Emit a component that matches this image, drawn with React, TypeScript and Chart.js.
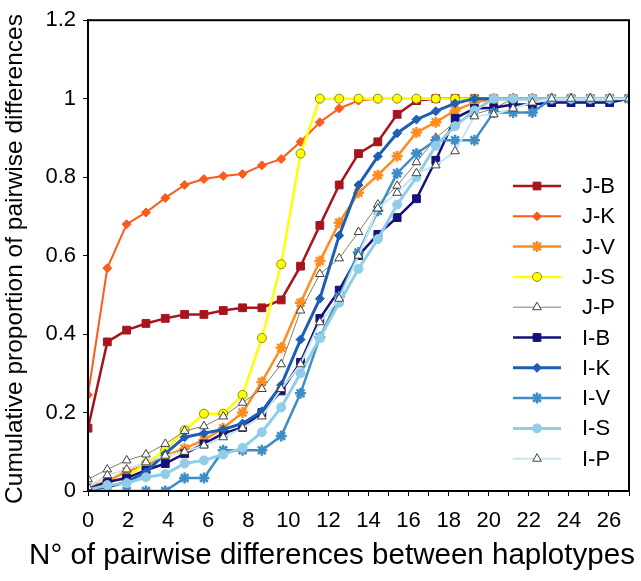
import React, { useEffect, useRef } from 'react';
import { Chart, registerables } from 'chart.js';
import { drawPoint } from 'chart.js/helpers';

Chart.register(...registerables);

const FONT = "'Liberation Sans', Arial, sans-serif";

// N° of pairwise differences (data categories)
const diffs = [0, 1, 2, 3, 4, 5, 6, 7, 8, 9, 10, 11, 12, 13, 14, 15, 16, 17, 18, 19, 20, 21, 22, 23, 24, 25, 26, 27, 28];

// axis tick labels
const xTickLabels = ['0', '2', '4', '6', '8', '10', '12', '14', '16', '18', '20', '22', '24', '26'];
const yTickLabels = ['0', '0.2', '0.4', '0.6', '0.8', '1', '1.2'];

const xTitle = 'N° of pairwise differences between haplotypes';
const yTitle = 'Cumulative proportion of pairwise differences';

const seriesNames = ['J-B', 'J-K', 'J-V', 'J-S', 'J-P', 'I-B', 'I-K', 'I-V', 'I-S', 'I-P'];

const jB = [0.16, 0.38, 0.41, 0.427, 0.44, 0.45, 0.45, 0.46, 0.467, 0.467, 0.487, 0.573, 0.677, 0.78, 0.86, 0.89, 0.96, 0.995, 1, 1, 1, 1, 1, 1, 1, 1, 1, 1, 1];
const jK = [0.245, 0.568, 0.68, 0.71, 0.747, 0.78, 0.795, 0.803, 0.808, 0.83, 0.846, 0.89, 0.94, 0.975, 0.995, 1, 1, 1, 1, 1, 1, 1, 1, 1, 1, 1, 1, 1, 1];
const jV = [0.01, 0.025, 0.05, 0.065, 0.09, 0.108, 0.13, 0.16, 0.2, 0.278, 0.365, 0.48, 0.586, 0.684, 0.76, 0.805, 0.853, 0.914, 0.94, 0.97, 0.99, 1, 1, 1, 1, 1, 1, 1, 1];
const jS = [0.005, 0.02, 0.035, 0.07, 0.105, 0.155, 0.197, 0.197, 0.245, 0.39, 0.578, 0.86, 1, 1, 1, 1, 1, 1, 1, 1, 1, 1, 1, 1, 1, 1, 1, 1, 1];
const jP = [0.03, 0.055, 0.078, 0.093, 0.12, 0.153, 0.165, 0.19, 0.225, 0.26, 0.323, 0.46, 0.553, 0.593, 0.66, 0.73, 0.778, 0.838, 0.9, 0.94, 0.96, 0.975, 1, 1, 1, 1, 1, 1, 1];
const iB = [0.005, 0.023, 0.033, 0.053, 0.07, 0.095, 0.12, 0.147, 0.162, 0.2, 0.255, 0.328, 0.44, 0.512, 0.6, 0.654, 0.697, 0.745, 0.843, 0.95, 0.975, 0.977, 0.985, 0.985, 0.99, 0.99, 0.99, 0.99, 1];
const iK = [0.003, 0.01, 0.023, 0.048, 0.095, 0.137, 0.147, 0.157, 0.172, 0.203, 0.27, 0.386, 0.49, 0.651, 0.78, 0.853, 0.912, 0.947, 0.968, 0.988, 1, 1, 1, 1, 1, 1, 1, 1, 1];
const iV = [0, 0, 0, 0, 0, 0.033, 0.033, 0.104, 0.104, 0.104, 0.14, 0.249, 0.392, 0.495, 0.608, 0.714, 0.81, 0.86, 0.894, 0.894, 0.894, 0.965, 0.965, 0.965, 1, 1, 1, 1, 1];
const iS = [0.003, 0.015, 0.02, 0.035, 0.043, 0.07, 0.078, 0.093, 0.11, 0.15, 0.213, 0.3, 0.39, 0.48, 0.566, 0.642, 0.73, 0.8, 0.88, 0.93, 0.97, 1, 1, 1, 1, 1, 1, 1, 1];
const iP = [0.01, 0.04, 0.055, 0.073, 0.09, 0.1, 0.116, 0.137, 0.16, 0.19, 0.26, 0.323, 0.43, 0.49, 0.6, 0.72, 0.76, 0.81, 0.83, 0.866, 0.955, 0.96, 0.975, 0.99, 1, 1, 1, 1, 1];

const seriesValues = [jB, jK, jV, jS, jP, iB, iK, iV, iS, iP];

type Style = {
  line: string; width: number; shape: string; radius: number; fill: string; border: string; bw: number;
};
const styles: Style[] = [
  { line: '#A8141E', width: 2.5, shape: 'rect', radius: 5.5, fill: '#A8141E', border: '#A8141E', bw: 1 },
  { line: '#FF5A1A', width: 2, shape: 'rectRot', radius: 4.5, fill: '#FF5A1A', border: '#FF5A1A', bw: 1 },
  { line: '#FF8C1E', width: 2.5, shape: 'star', radius: 5.5, fill: '#FF8C1E', border: '#FF8C1E', bw: 2.5 },
  { line: '#FFFF00', width: 2.5, shape: 'circle', radius: 4.5, fill: '#FFFF00', border: '#8C8C00', bw: 1 },
  { line: '#8E7F56', width: 1, shape: 'triangle', radius: 5, fill: '#FFFFFF', border: '#404040', bw: 1 },
  { line: '#16127A', width: 2.5, shape: 'rect', radius: 5.5, fill: '#16127A', border: '#16127A', bw: 1 },
  { line: '#1D5FB4', width: 3, shape: 'rectRot', radius: 4.5, fill: '#1D5FB4', border: '#1D5FB4', bw: 1 },
  { line: '#3C8DC8', width: 2.5, shape: 'star', radius: 5.5, fill: '#3C8DC8', border: '#3C8DC8', bw: 2.5 },
  { line: '#90CDE8', width: 3, shape: 'circle', radius: 4.5, fill: '#90CDE8', border: '#90CDE8', bw: 1 },
  { line: '#C6E5F2', width: 2, shape: 'triangle', radius: 5, fill: '#FFFFFF', border: '#404040', bw: 1 },
];

function fittedFont(ctx: CanvasRenderingContext2D, text: string, width: number) {
  ctx.font = `30px ${FONT}`;
  const w = ctx.measureText(text).width;
  const size = (30 * width) / w;
  return `${size.toFixed(2)}px ${FONT}`;
}

const frameAndLegend = {
  id: 'frameAndLegend',
  afterDatasetsDraw(chart: any) {
    const { ctx, chartArea } = chart;
    ctx.save();
    ctx.strokeStyle = '#000';
    ctx.lineWidth = 2;
    ctx.strokeRect(chartArea.left, chartArea.top, chartArea.right - chartArea.left, chartArea.bottom - chartArea.top);
    ctx.restore();
  },
  afterDraw(chart: any) {
    const { ctx } = chart;
    ctx.save();
    // axis titles
    ctx.fillStyle = '#000';
    ctx.textAlign = 'center';
    ctx.textBaseline = 'middle';
    ctx.font = fittedFont(ctx, xTitle, 606);
    ctx.fillText(xTitle, 332, 556);
    ctx.save();
    ctx.translate(15, 259);
    ctx.rotate(-Math.PI / 2);
    ctx.font = fittedFont(ctx, yTitle, 490);
    ctx.fillText(yTitle, 0, 0);
    ctx.restore();

    // legend
    const x1 = 513, x2 = 561, xm = 537, xt = 582;
    seriesNames.forEach((name, i) => {
      const st = styles[i];
      const y = 186 + i * 30.3;
      ctx.strokeStyle = st.line;
      ctx.lineWidth = st.width;
      ctx.beginPath();
      ctx.moveTo(x1, y);
      ctx.lineTo(x2, y);
      ctx.stroke();
      ctx.fillStyle = st.fill;
      ctx.strokeStyle = st.border;
      ctx.lineWidth = st.bw;
      drawPoint(ctx, { pointStyle: st.shape, radius: st.radius, rotation: 0, borderWidth: st.bw } as any, xm, y);
      ctx.fillStyle = '#000';
      ctx.font = `22px ${FONT}`;
      ctx.textAlign = 'left';
      ctx.textBaseline = 'middle';
      ctx.fillText(name, xt, y + 1);
    });
    ctx.restore();
  },
};

export default function App() {
  const ref = useRef<HTMLCanvasElement>(null);
  useEffect(() => {
    const datasets = seriesNames.map((name, i) => {
      const st = styles[i];
      return {
        label: name,
        data: diffs.map((d, k) => ({ x: d, y: seriesValues[i][k] })),
        xAxisID: 'xd',
        yAxisID: 'y',
        borderColor: st.line,
        borderWidth: st.width,
        backgroundColor: st.fill,
        pointStyle: st.shape,
        pointRadius: st.radius,
        pointBackgroundColor: st.fill,
        pointBorderColor: st.border,
        pointBorderWidth: st.bw,
        tension: 0,
        fill: false,
        order: seriesNames.length - i,
      };
    });
    const chart = new Chart(ref.current as HTMLCanvasElement, {
      type: 'line',
      data: { datasets } as any,
      plugins: [frameAndLegend],
      options: {
        responsive: false,
        animation: false,
        layout: { padding: { left: 0, top: 16, right: 12, bottom: 0 } },
        plugins: { legend: { display: false }, tooltip: { enabled: false } },
        scales: {
          x: {
            type: 'linear',
            position: 'bottom',
            min: 0,
            max: 27,
            ticks: {
              stepSize: 1,
              autoSkip: false,
              maxRotation: 0,
              color: '#000',
              padding: 12,
              font: { size: 22, family: FONT },
              callback: (v: any) => {
                const idx = xTickLabels.indexOf(String(v));
                return idx >= 0 ? xTickLabels[idx] : '';
              },
            },
            grid: { display: true, drawOnChartArea: false, drawTicks: true, tickLength: 5, color: '#000', lineWidth: 1 },
            border: { display: true, color: '#000', width: 2 },
            afterFit: (s: any) => { s.height = 90; },
          },
          xd: { type: 'linear', min: 0, max: 28, display: false },
          y: {
            type: 'linear',
            min: 0,
            max: 1.2,
            ticks: {
              stepSize: 0.2,
              color: '#000',
              padding: 7,
              font: { size: 22, family: FONT },
              callback: (v: any) => {
                const idx = Math.round(Number(v) * 5);
                return yTickLabels[idx] ?? '';
              },
            },
            grid: { display: true, drawOnChartArea: false, drawTicks: true, tickLength: 5, color: '#000', lineWidth: 1 },
            border: { display: true, color: '#000', width: 2 },
            afterFit: (s: any) => { s.width = 88; },
          },
        },
      } as any,
    });
    return () => chart.destroy();
  }, []);
  return (
    <div style={{ position: 'fixed', left: 0, top: 0, width: 641, height: 581, background: '#fff' }}>
      <canvas ref={ref} width={641} height={581} style={{ display: 'block' }} />
    </div>
  );
}
